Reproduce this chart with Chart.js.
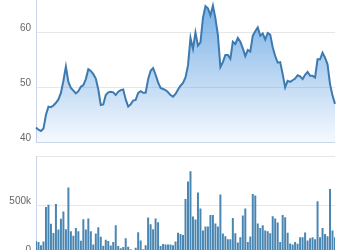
<!DOCTYPE html>
<html>
<head>
    <title>Price and volume</title>
    <script src="https://cdn.jsdelivr.net/npm/chart.js@4.4.0/dist/chart.umd.min.js"></script>
    <style>
        body { margin: 0; width: 350px; height: 250px; overflow: hidden; background: #fff; position: relative; }
        canvas { position: absolute; left: 0; }
        #priceChart { top: 0; }
        #volumeChart { top: 150px; }
    </style>
</head>
<body>
    <canvas id="priceChart" width="350" height="150"></canvas>
    <canvas id="volumeChart" width="350" height="110"></canvas>

    <script>
        // closing prices, one per trading day
        const price = [
            42.7, 42.3, 42.05, 42.5, 45.0, 46.5, 46.4, 46.7, 47.2, 47.8,
            49.0, 51.2, 53.8, 51.0, 49.9, 49.4, 48.9, 49.3, 50.1, 50.4,
            51.5, 53.3, 53.0, 52.4, 51.6, 49.6, 46.8, 46.9, 48.6, 49.1,
            49.2, 49.1, 48.6, 49.2, 49.5, 49.6, 47.8, 46.5, 46.9, 47.6,
            47.7, 49.0, 49.3, 49.0, 49.0, 51.5, 53.0, 53.5, 52.3, 50.9,
            49.9, 49.7, 49.5, 49.1, 48.6, 48.3, 48.8, 49.6, 50.3, 50.8,
            51.8, 54.0, 59.0, 57.0, 60.0, 57.6, 58.2, 62.6, 64.8, 64.4,
            63.1, 64.9, 62.6, 59.5, 53.7, 54.6, 55.9, 55.9, 55.2, 58.3,
            57.9, 59.0, 58.3, 57.1, 55.7, 56.8, 56.5, 59.4, 60.2, 60.9,
            59.4, 59.8, 58.7, 59.9, 59.6, 57.3, 55.7, 54.5, 54.6, 52.4,
            50.0, 51.2, 51.0, 51.3, 51.6, 52.2, 52.0, 51.5, 52.3, 52.8,
            52.1, 52.1, 51.8, 55.1, 55.1, 56.3, 55.4, 54.2, 50.6, 48.5,
            47.0
        ];

        // traded volume, same days
        const volume = [
            136000, 127000, 95000, 131000, 481000, 504000, 313000, 218000, 512000, 254000,
            363000, 436000, 257000, 679000, 237000, 190000, 270000, 237000, 139000, 358000,
            254000, 365000, 237000, 102000, 213000, 277000, 180000, 89000, 150000, 136000,
            92000, 126000, 298000, 86000, 63000, 75000, 166000, 79000, 54000, 40000,
            68000, 227000, 142000, 54000, 95000, 375000, 308000, 257000, 365000, 328000,
            86000, 106000, 102000, 102000, 102000, 95000, 133000, 220000, 207000, 197000,
            563000, 742000, 846000, 385000, 355000, 630000, 466000, 243000, 284000, 284000,
            402000, 402000, 314000, 284000, 608000, 213000, 186000, 156000, 156000, 371000,
            217000, 122000, 176000, 395000, 466000, 126000, 183000, 614000, 600000, 314000,
            270000, 298000, 244000, 237000, 217000, 389000, 365000, 324000, 126000, 402000,
            379000, 220000, 112000, 102000, 126000, 109000, 176000, 176000, 223000, 142000,
            166000, 176000, 156000, 540000, 176000, 270000, 207000, 186000, 664000, 243000,
            176000
        ];

        const days = price.map((p, i) => i + 1);
        const priceTicks = [40, 50, 60];
        const volumeTicks = [0, 500000, 1000000];
        const volumeTickLabels = ['0', '500k', ''];

        Chart.defaults.font.family = '"Liberation Sans", Arial, sans-serif';
        Chart.defaults.font.size = 10;
        Chart.defaults.color = '#666';
        Chart.defaults.animation = false;

        // both y axes get the same fixed width so the plots line up
        function fixWidth(scale) {
            scale.width = 36;
            scale.paddingTop = 0;
            scale.paddingBottom = 0;
        }

        function areaFill(context) {
            const area = context.chart.chartArea;
            if (!area) return 'rgba(60,140,220,0.3)';
            const g = context.chart.ctx.createLinearGradient(0, area.top, 0, area.bottom);
            g.addColorStop(0, 'rgba(60,140,220,0.7)');
            g.addColorStop(1, 'rgba(60,140,220,0.05)');
            return g;
        }

        new Chart(document.getElementById('priceChart'), {
            type: 'line',
            data: {
                labels: days,
                datasets: [{
                    data: price,
                    borderColor: '#3d7ab0',
                    borderWidth: 2,
                    backgroundColor: areaFill,
                    fill: 'start',
                    pointRadius: 0,
                    tension: 0
                }]
            },
            options: {
                responsive: false,
                layout: { padding: { left: 0, right: 15, top: 0, bottom: 7.7 } },
                plugins: { legend: { display: false }, tooltip: { enabled: false } },
                scales: {
                    x: { display: false },
                    y: {
                        min: 40,
                        max: 65.9,
                        afterFit: fixWidth,
                        afterBuildTicks: scale => { scale.ticks = priceTicks.map(v => ({ value: v })); },
                        border: { display: true, color: '#ccd6eb' },
                        grid: {
                            drawTicks: false,
                            color: ctx => ctx.tick && ctx.tick.value === 40 ? '#ccd6eb' : '#e6e6e6'
                        },
                        ticks: { padding: 5, labelOffset: -4.5 }
                    }
                }
            }
        });

        new Chart(document.getElementById('volumeChart'), {
            type: 'bar',
            data: {
                labels: days,
                datasets: [{
                    data: volume,
                    backgroundColor: '#4a86b2',
                    barPercentage: 0.8,
                    categoryPercentage: 1
                }]
            },
            options: {
                responsive: false,
                layout: { padding: { left: 0, right: 15, top: 6, bottom: 5.5 } },
                plugins: { legend: { display: false }, tooltip: { enabled: false } },
                scales: {
                    x: { display: false, offset: false },
                    y: {
                        min: 0,
                        max: 1000000,
                        afterFit: fixWidth,
                        afterBuildTicks: scale => { scale.ticks = volumeTicks.map(v => ({ value: v })); },
                        border: { display: true, color: '#ccd6eb' },
                        grid: { drawTicks: false, color: '#e6e6e6' },
                        ticks: {
                            padding: 5,
                            labelOffset: -4.5,
                            callback: v => volumeTickLabels[volumeTicks.indexOf(v)]
                        }
                    }
                }
            }
        });
    </script>
</body>
</html>
